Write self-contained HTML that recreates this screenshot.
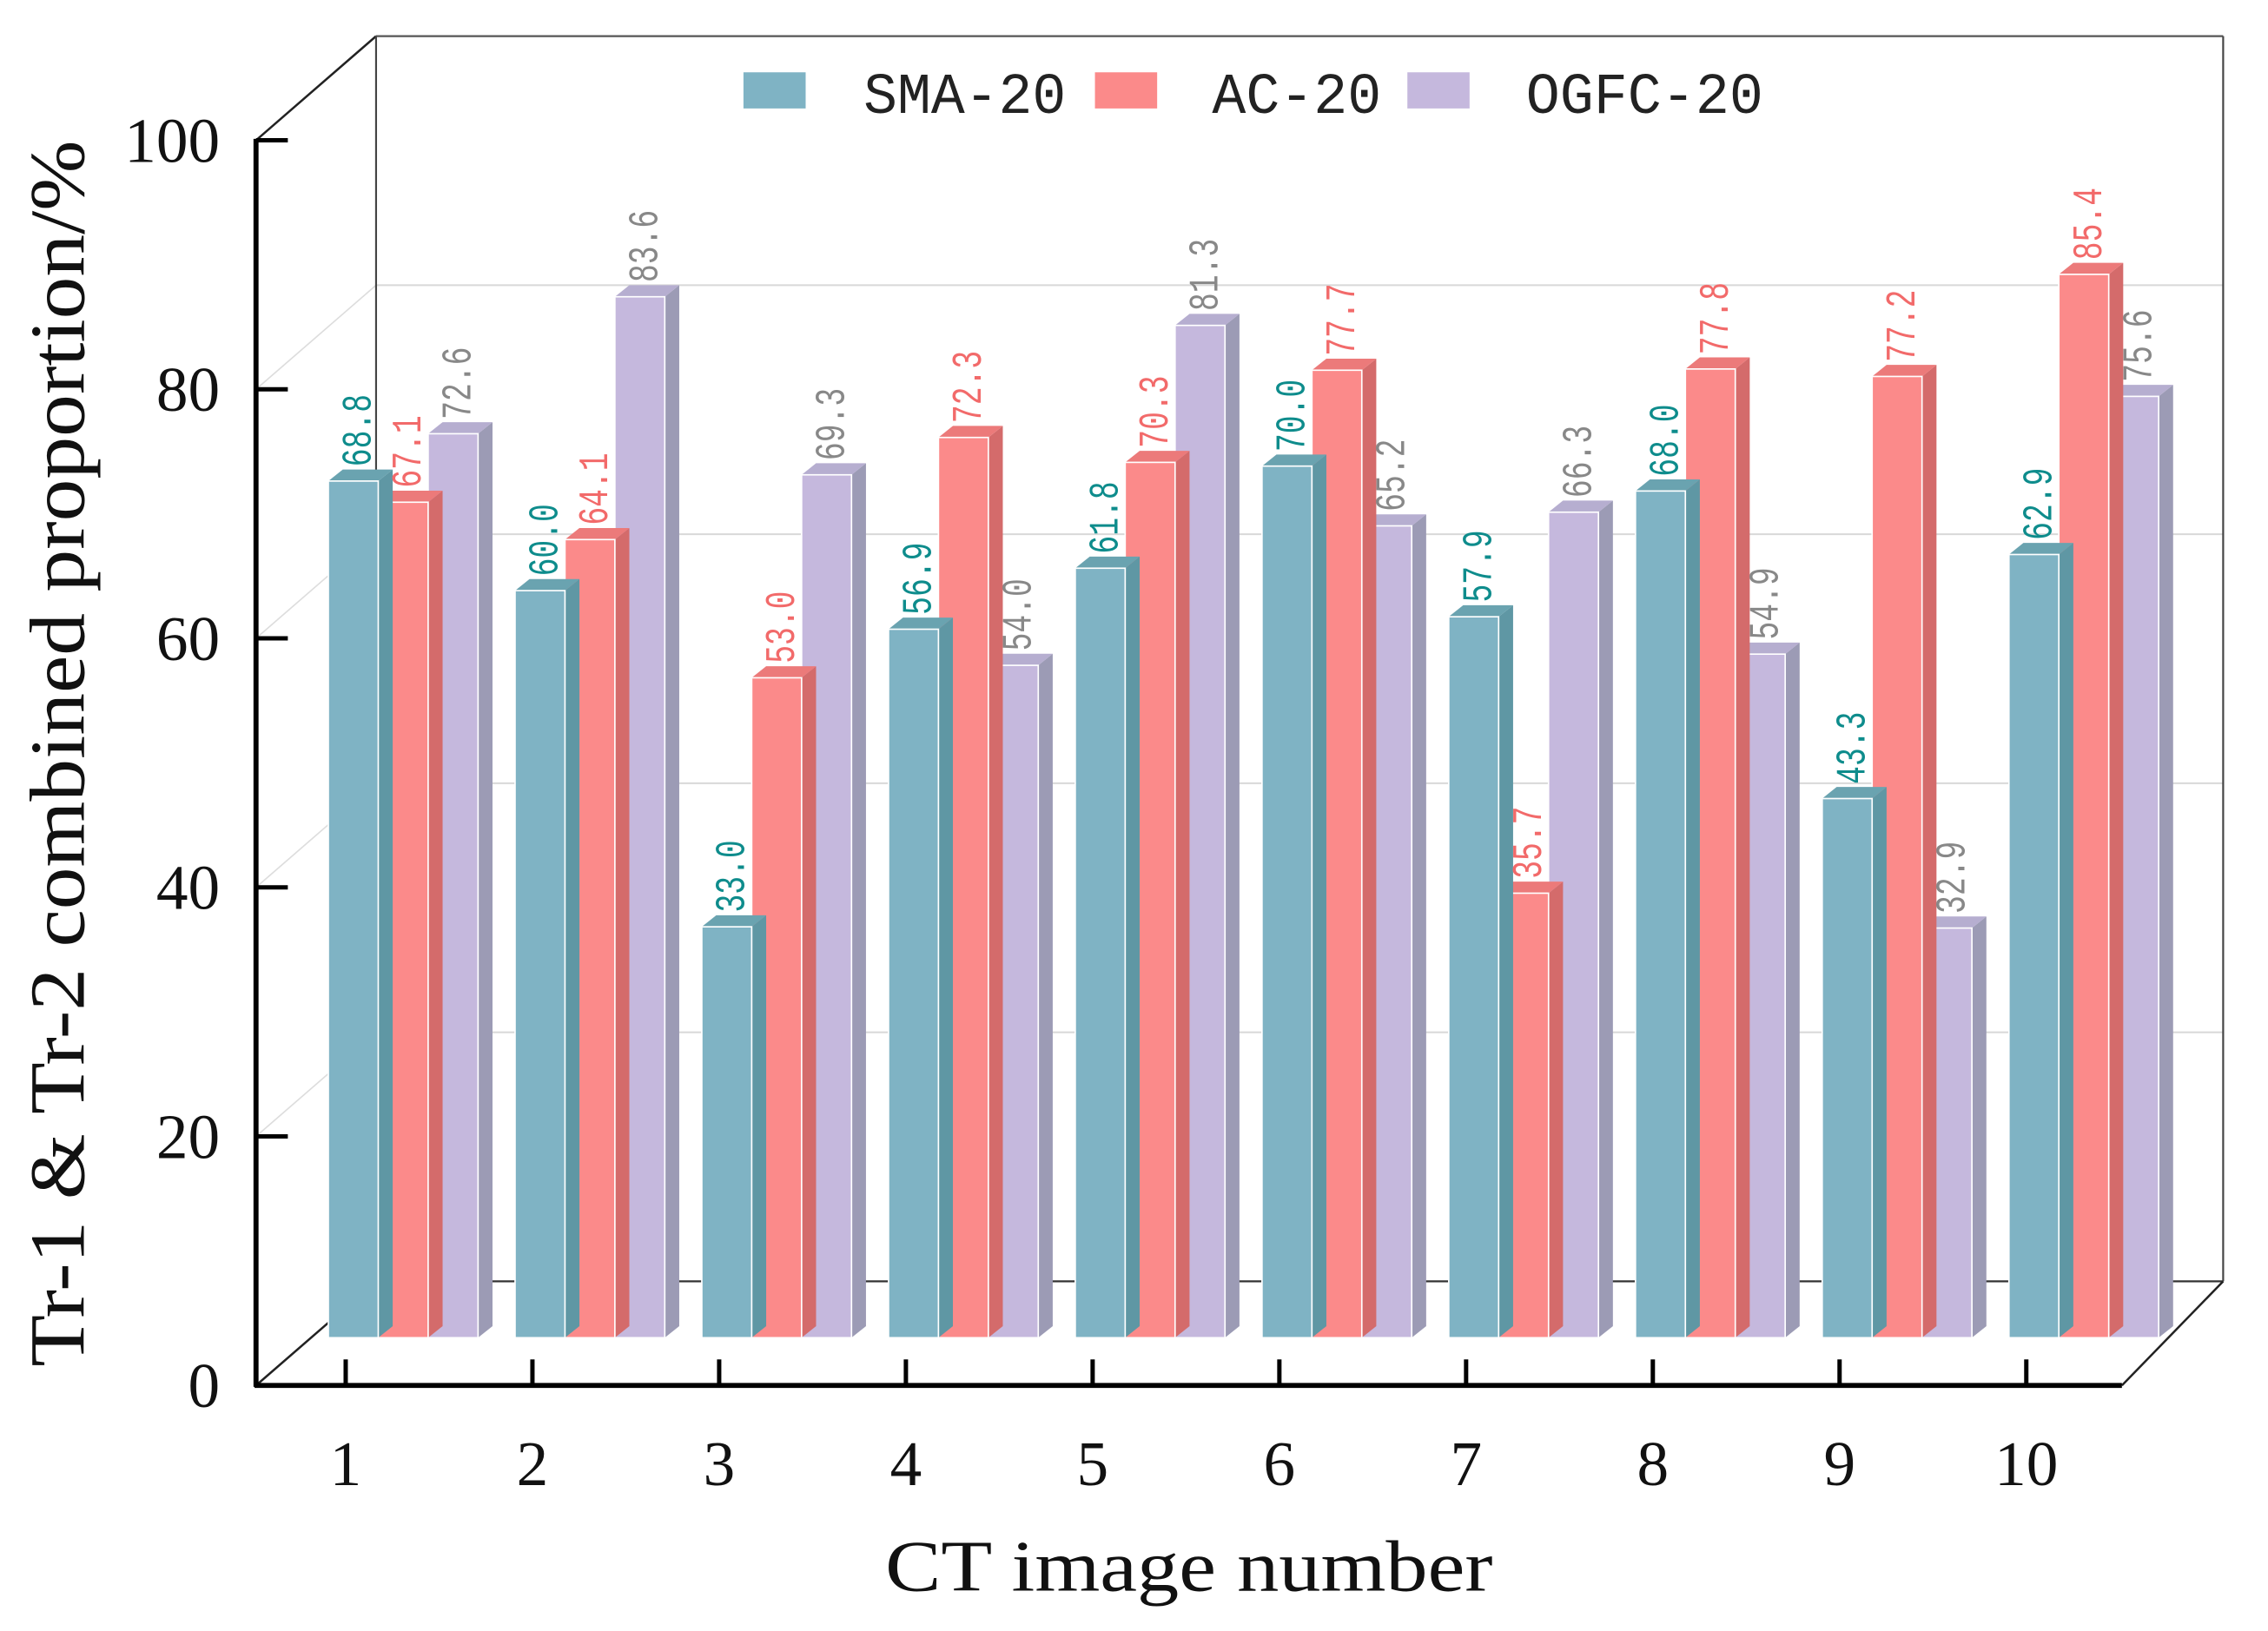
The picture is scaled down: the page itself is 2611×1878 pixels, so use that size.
<!DOCTYPE html>
<html><head><meta charset="utf-8"><style>
html,body{margin:0;padding:0;background:#fff;}
svg{display:block;}
</style></head><body>
<svg id="chart" width="2611" height="1878" viewBox="0 0 1568 1127.8" preserveAspectRatio="none" xmlns="http://www.w3.org/2000/svg">
<g id="frame"></g>
<g id="bars"></g>
<g id="legend">
  <rect x="514" y="50" width="43" height="25" fill="#7fb3c4"/>
  <text x="597" y="78" font-family="Liberation Mono, monospace" font-size="40" fill="#222" textLength="140" lengthAdjust="spacingAndGlyphs">SMA-20</text>
  <rect x="757" y="50" width="43" height="25" fill="#fb8a8a"/>
  <text x="838" y="78" font-family="Liberation Mono, monospace" font-size="40" fill="#222" textLength="117" lengthAdjust="spacingAndGlyphs">AC-20</text>
  <rect x="973" y="50" width="43" height="25" fill="#c5b8dd"/>
  <text x="1055" y="78" font-family="Liberation Mono, monospace" font-size="40" fill="#222" textLength="164" lengthAdjust="spacingAndGlyphs">OGFC-20</text>
</g>
<text x="822" y="1100" text-anchor="middle" font-family="Liberation Serif, serif" font-size="50" fill="#111" textLength="420" lengthAdjust="spacingAndGlyphs">CT image number</text>
<text transform="translate(58,521) rotate(-90)" text-anchor="middle" font-family="Liberation Serif, serif" font-size="54" fill="#111" textLength="848" lengthAdjust="spacingAndGlyphs">Tr-1 &amp; Tr-2 combined proportion/%</text>
</svg>
<script>
const categories = ["1","2","3","4","5","6","7","8","9","10"];
const smaValues = [68.8,60.0,33.0,56.9,61.8,70.0,57.9,68.0,43.3,62.9];
const acValues = [67.1,64.1,53.0,72.3,70.3,77.7,35.7,77.8,77.2,85.4];
const ogfcValues = [72.6,83.6,69.3,54.0,81.3,65.2,66.3,54.9,32.9,75.6];
const yTicks = [0,20,40,60,80,100];

const NS = "http://www.w3.org/2000/svg";
const X0 = 177, Y0 = 958, DX = 83, DY = -72, UNIT = 8.61;
const yFront = v => Y0 - v * UNIT;
const yBar = v => 925 - v * UNIT;
const xTick = i => 239 + i * 129.1;
function mk(tag, attrs, parent){const e=document.createElementNS(NS,tag);for(const k in attrs)e.setAttribute(k,attrs[k]);parent.appendChild(e);return e;}
const frame = document.getElementById('frame');
const bars = document.getElementById('bars');
const xEnd = 1467;

yTicks.forEach((t,i)=>{
  const yb = yFront(t)+DY;
  let l = mk('line',{x1:X0+DX,y1:yb,x2:xEnd+DX-13,y2:yb,stroke:t===0?'#333':(t===100?'#555':'#d8d8d8'),'stroke-width':t===0||t===100?1.3:1.2},frame);
  
  
  let d = mk('line',{x1:X0,y1:yFront(t),x2:X0+DX,y2:yb,stroke:(t===0||t===100)?'#222':'#ddd','stroke-width':(t===0||t===100)?1.5:1},frame);
  
  
});
let bv = mk('line',{x1:X0+DX,y1:yFront(0)+DY,x2:X0+DX,y2:yFront(100)+DY,stroke:'#444','stroke-width':1.3},frame);


let br = mk('line',{x1:1537,y1:yFront(0)+DY,x2:1537,y2:yFront(100)+DY,stroke:'#444','stroke-width':1.3},frame);


let dr = mk('line',{x1:xEnd,y1:Y0,x2:1537,y2:886,stroke:'#222','stroke-width':1.5},frame);



let ya = mk('line',{x1:X0,y1:Y0+1,x2:X0,y2:yFront(100)-1,stroke:'#000','stroke-width':3.5},frame);


let xa = mk('line',{x1:X0-1,y1:Y0,x2:xEnd,y2:Y0,stroke:'#000','stroke-width':3.5},frame);


yTicks.forEach(t=>{
  let tk = mk('line',{x1:X0,y1:yFront(t),x2:X0+22,y2:yFront(t),stroke:'#000','stroke-width':3},frame);
  
  
  let tl = mk('text',{x:152,y:yFront(t)+15,'text-anchor':'end','font-family':'Liberation Serif, serif','font-size':44,fill:'#111'},frame);
  tl.textContent = t;
  
  
});
categories.forEach((c,i)=>{
  const x = xTick(i);
  let tk = mk('line',{x1:x,y1:Y0,x2:x,y2:Y0-18,stroke:'#000','stroke-width':3},frame);
  
  
  let tl = mk('text',{x:x,y:1027,'text-anchor':'middle','font-family':'Liberation Serif, serif','font-size':44,fill:'#111'},frame);
  tl.textContent = c;
  
  
});

const series = [
  {name:'sma',vals:smaValues,front:'#7fb3c4',side:'#5f97a4',top:'#6aa3b0',label:'#0e8c8c'},
  {name:'ac',vals:acValues,front:'#fb8a8a',side:'#d46b6b',top:'#ec7a7a',label:'#f26a6a'},
  {name:'ogfc',vals:ogfcValues,front:'#c5b8dd',side:'#9c9bb5',top:'#b6aed0',label:'#888888'}
];
const BW = 34.5, SD = 10, SU = 8;
categories.forEach((c,i)=>{
  const gx = xTick(i) - 12;
  for(let s=2;s>=0;s--){
    const se = series[s];
    const v = se.vals[i];
    const x = gx + s*BW, yt = yBar(v), yb = 925;
    let side = mk('polygon',{points:`${x+BW},${yt} ${x+BW+SD},${yt-SU} ${x+BW+SD},${yb-SU} ${x+BW},${yb}`,fill:se.side},bars);
    
    
    let top = mk('polygon',{points:`${x},${yt} ${x+SD},${yt-SU} ${x+BW+SD},${yt-SU} ${x+BW},${yt}`,fill:se.top},bars);
    
    
    let r = mk('rect',{x:x,y:yt,width:BW,height:yb-yt,fill:se.front,stroke:'#fff','stroke-width':1},bars);
    
    
  }
});
categories.forEach((c,i)=>{
  const gx = xTick(i) - 12;
  series.forEach((se,s)=>{
    const v = se.vals[i];
    const x = gx + s*BW + BW/2 + 12, y = yBar(v) - 10;
    let t = mk('text',{transform:`translate(${x},${y}) rotate(-90)`,'font-family':'Liberation Mono, monospace','font-size':29,fill:se.label,textLength:50,lengthAdjust:'spacingAndGlyphs'},bars);
    t.textContent = v.toFixed(1);
    
    
  });
});
</script>
</body></html>
